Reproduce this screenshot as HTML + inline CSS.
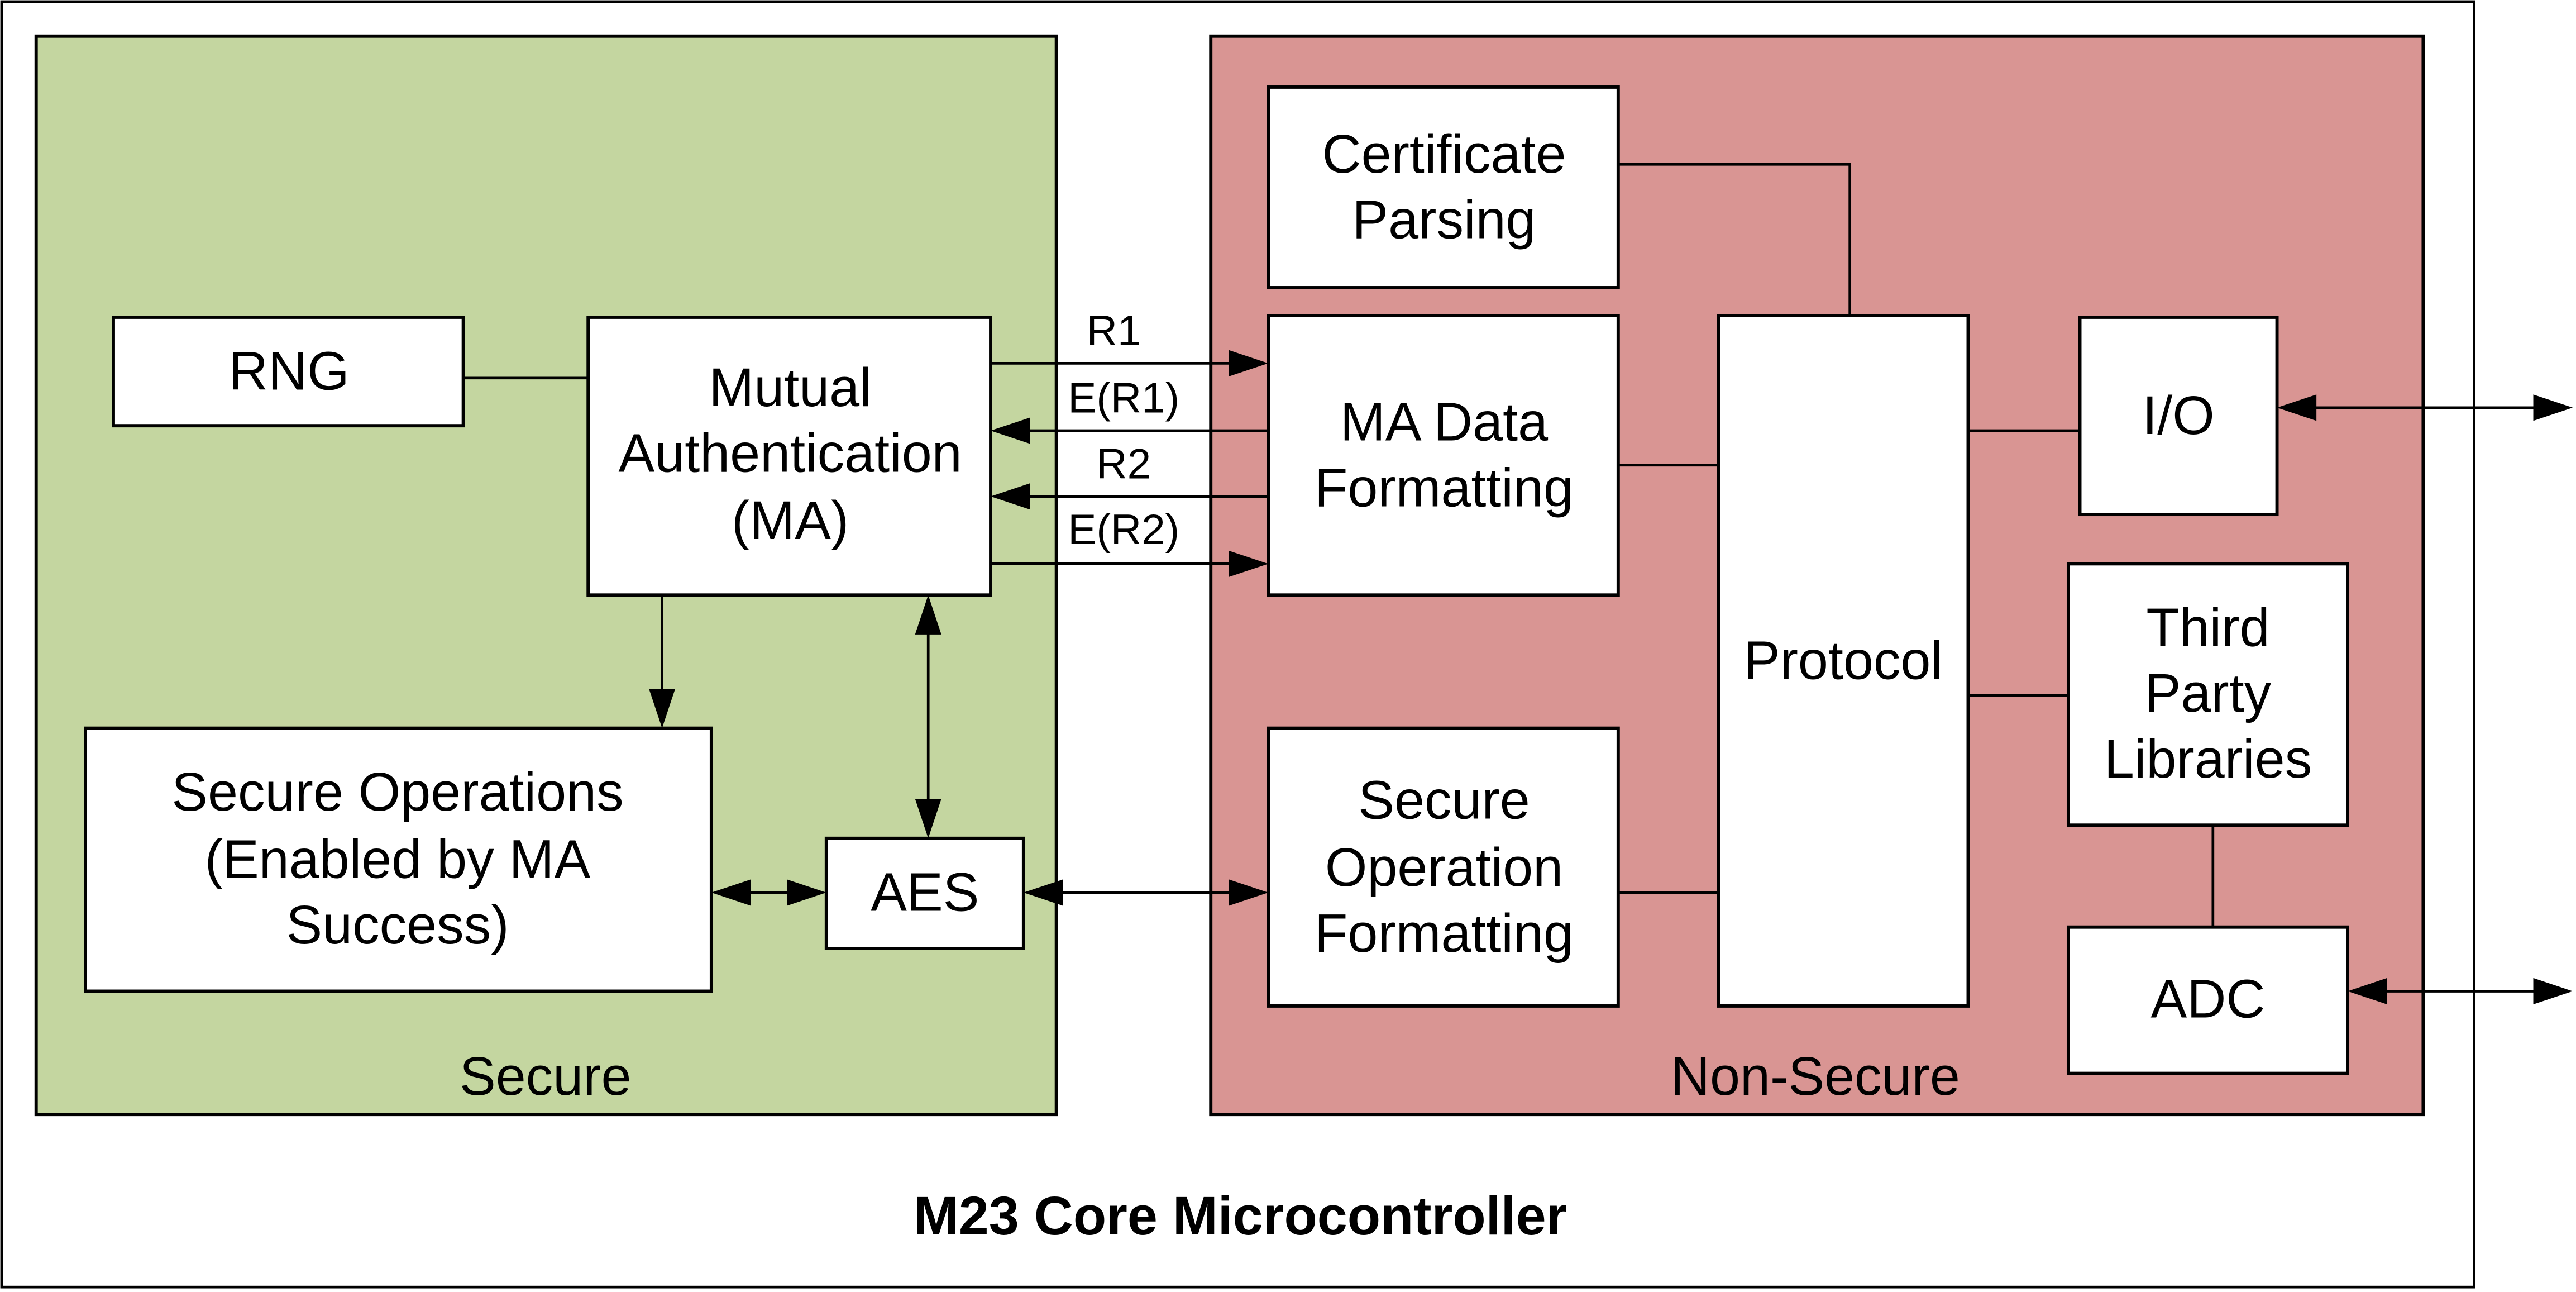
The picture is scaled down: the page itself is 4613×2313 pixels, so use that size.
<!DOCTYPE html>
<html><head><meta charset="utf-8"><style>html,body{margin:0;padding:0;background:#fff}svg{display:block}
text{font-family:"Liberation Sans",Arial,sans-serif;font-size:33px;text-anchor:middle;fill:#000}
.s{font-size:26px}
.b{fill:#fff;stroke:#000;stroke-width:2}
.l{stroke:#000;stroke-width:1.6;fill:none}
</style></head>
<body>
<svg width="4613" height="2313" viewBox="0 0 1568 786" preserveAspectRatio="none" xmlns="http://www.w3.org/2000/svg">
<rect x="1" y="1" width="1505" height="782" fill="#fff" stroke="#000" stroke-width="1.6"/>
<rect x="22" y="22" width="621" height="656" fill="#c4d6a0" stroke="#000" stroke-width="2"/>
<rect x="737" y="22" width="738" height="656" fill="#d99593" stroke="#000" stroke-width="2"/>
<path class="l" d="M282,230H358"/>
<path class="l" d="M603,221H760"/>
<path class="l" d="M772,262H615"/>
<path class="l" d="M772,302H615"/>
<path class="l" d="M603,343H760"/>
<path class="l" d="M985,100H1126V192"/>
<path class="l" d="M985,283H1046"/>
<path class="l" d="M1198,262H1266"/>
<path class="l" d="M1198,423H1259"/>
<path class="l" d="M985,543H1046"/>
<path class="l" d="M1347,502V564"/>
<path class="l" d="M1396,248H1556"/>
<path class="l" d="M1439,603H1556"/>
<path class="l" d="M403,362V430"/>
<path class="l" d="M565,372V500"/>
<path class="l" d="M443,543H493"/>
<path class="l" d="M633,543H762"/>
<g fill="#000">
<path d="M772,221L748,213L748,229Z"/>
<path d="M603,262L627,254L627,270Z"/>
<path d="M603,302L627,294L627,310Z"/>
<path d="M772,343L748,335L748,351Z"/>
<path d="M1386,248L1410,240L1410,256Z"/>
<path d="M1566,248L1542,240L1542,256Z"/>
<path d="M1429,603L1453,595L1453,611Z"/>
<path d="M1566,603L1542,595L1542,611Z"/>
<path d="M403,443L395,419L411,419Z"/>
<path d="M565,362L557,386L573,386Z"/>
<path d="M565,510L557,486L573,486Z"/>
<path d="M433,543L457,535L457,551Z"/>
<path d="M503,543L479,535L479,551Z"/>
<path d="M623,543L647,535L647,551Z"/>
<path d="M772,543L748,535L748,551Z"/>
</g>
<rect class="b" x="69" y="193" width="213" height="66"/>
<rect class="b" x="358" y="193" width="245" height="169"/>
<rect class="b" x="772" y="53" width="213" height="122"/>
<rect class="b" x="772" y="192" width="213" height="170"/>
<rect class="b" x="1046" y="192" width="152" height="420"/>
<rect class="b" x="1266" y="193" width="120" height="120"/>
<rect class="b" x="1259" y="343" width="170" height="159"/>
<rect class="b" x="1259" y="564" width="170" height="89"/>
<rect class="b" x="52" y="443" width="381" height="160"/>
<rect class="b" x="503" y="510" width="120" height="67"/>
<rect class="b" x="772" y="443" width="213" height="169"/>
<text x="176" y="237">RNG</text>
<text x="481" y="247">Mutual</text>
<text x="481" y="287">Authentication</text>
<text x="481" y="328">(MA)</text>
<text x="879" y="105">Certificate</text>
<text x="879" y="145">Parsing</text>
<text x="879" y="268">MA Data</text>
<text x="879" y="308">Formatting</text>
<text x="1122" y="413">Protocol</text>
<text x="1326" y="264">I/O</text>
<text x="1344" y="393">Third</text>
<text x="1344" y="433">Party</text>
<text x="1344" y="473">Libraries</text>
<text x="1344" y="619">ADC</text>
<text x="242" y="493">Secure Operations</text>
<text x="242" y="534">(Enabled by MA</text>
<text x="242" y="574">Success)</text>
<text x="563" y="554">AES</text>
<text x="879" y="498">Secure</text>
<text x="879" y="539">Operation</text>
<text x="879" y="579">Formatting</text>
<text class="s" x="678" y="210">R1</text>
<text class="s" x="684" y="251">E(R1)</text>
<text class="s" x="684" y="291">R2</text>
<text class="s" x="684" y="331">E(R2)</text>
<text x="332" y="666">Secure</text>
<text x="1105" y="666">Non-Secure</text>
<text x="755" y="751" font-weight="bold">M23 Core Microcontroller</text>
</svg>
</body></html>
